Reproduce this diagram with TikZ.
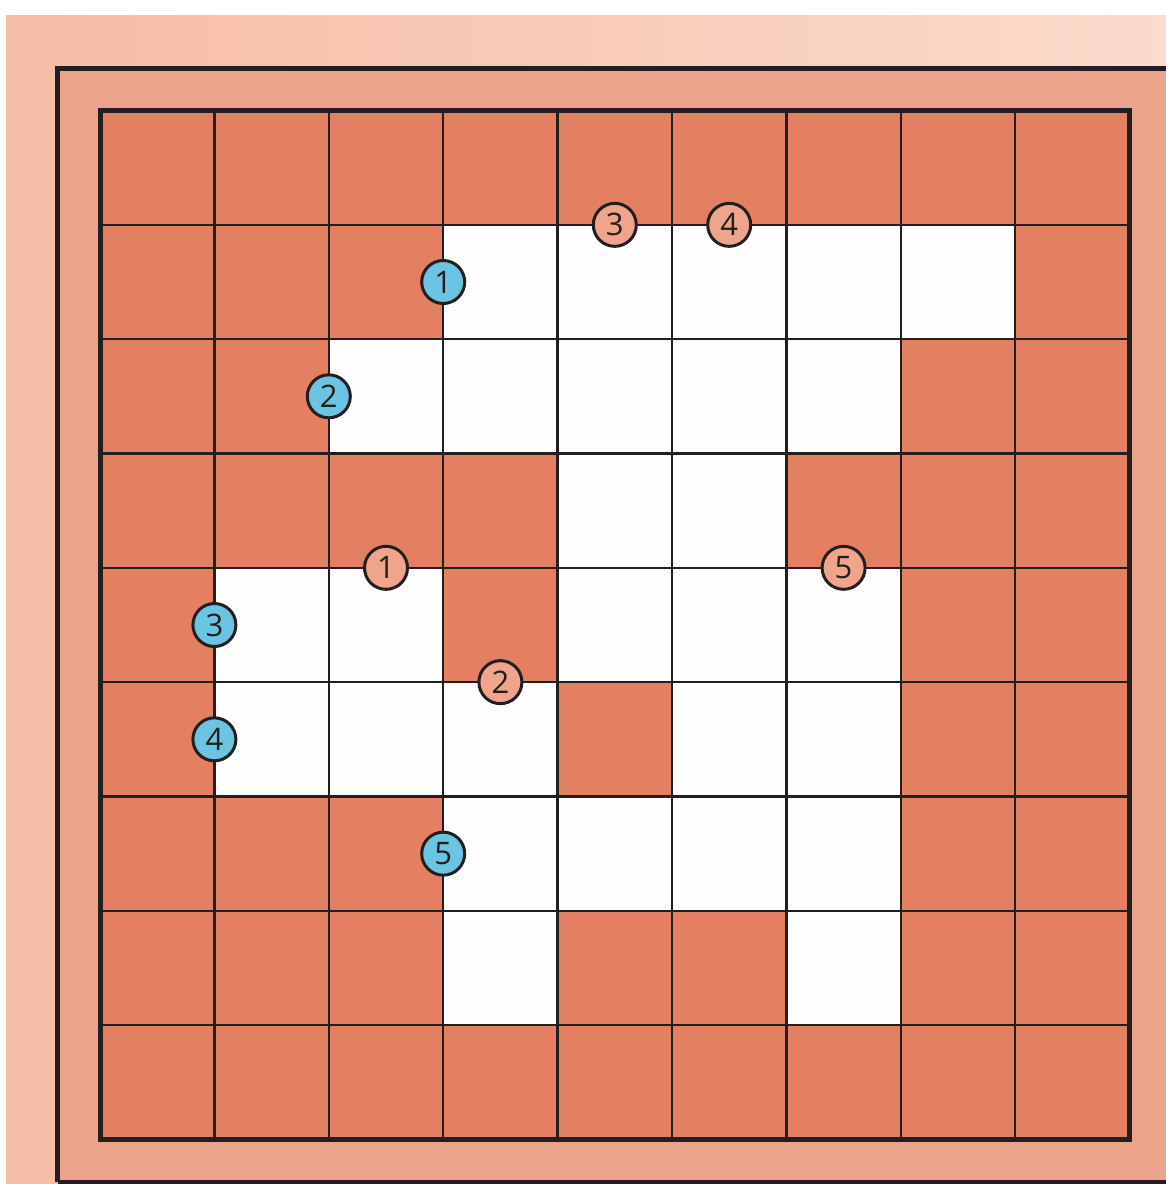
\documentclass[tikz,border=0pt]{standalone}
\usepackage{fontspec}
\setmainfont{Open Sans}
\definecolor{bgL}{HTML}{F7BCA5}
\definecolor{bgR}{HTML}{FADBCC}
\definecolor{frameC}{HTML}{EBA38C}
\definecolor{cellC}{HTML}{E48062}
\definecolor{whiteC}{HTML}{FDFDFD}
\definecolor{lineC}{HTML}{231F20}
\definecolor{blueC}{HTML}{6CC4E3}
\definecolor{pinkC}{HTML}{EFA48B}
\tikzset{
  gridline/.style={draw=lineC, line width=2.3pt},
  borderline/.style={draw=lineC, line width=5pt},
  mark base/.style={circle, draw=lineC, line width=3pt, minimum size=43pt, inner sep=0pt,
    text=lineC, font=\fontsize{31}{31}\selectfont},
  bluemark/.style={mark base, fill=blueC},
  pinkmark/.style={mark base, fill=pinkC},
}
\begin{document}
\begin{tikzpicture}[x=1pt,y=-1pt]
\useasboundingbox (0,0) rectangle (1166,1184);
\clip (0,0) rectangle (1166,1184);
\fill[white] (0,0) rectangle (1166,1184);
\shade[left color=bgL, right color=bgR] (6,15) rectangle (1166,1184);
\fill[frameC] (57.5,68.5) rectangle (1172,1182);
\draw[borderline] (57.5,1182) -- (57.5,68.5) -- (1172,68.5);
\draw[borderline] (57.5,1182) -- (1172,1182);
\begin{scope}[shift={(100,110.5)}, x=114.4pt, y=-114.33pt]
  \fill[cellC] (0,0) rectangle (9,9);
  \foreach \r/\c in {1/3,1/4,1/5,1/6,1/7,
                     2/2,2/3,2/4,2/5,2/6,
                     3/4,3/5,
                     4/1,4/2,4/4,4/5,4/6,
                     5/1,5/2,5/3,5/5,5/6,
                     6/3,6/4,6/5,6/6,
                     7/3,7/6}
    \fill[whiteC] (\c,\r) rectangle ++(1,1);
  \foreach \i in {1,...,8} {
    \draw[gridline] (\i,0) -- (\i,9);
    \draw[gridline] (0,\i) -- (9,\i);
  }
  \draw[borderline] (0,0) rectangle (9,9);
  % blue markers
  \node[bluemark] (b1) at (3,1.5) {1};
  \node[bluemark] (b2) at (2,2.5) {2};
  \node[bluemark] (b3) at (1,4.5) {3};
  \node[bluemark] (b4) at (1,5.5) {4};
  \node[bluemark] (b5) at (3,6.5) {5};
  % salmon markers
  \node[pinkmark] (p1) at (2.5,4) {1};
  \node[pinkmark] (p2) at (3.5,5) {2};
  \node[pinkmark] (p3) at (4.5,1) {3};
  \node[pinkmark] (p4) at (5.5,1) {4};
  \node[pinkmark] (p5) at (6.5,4) {5};
\end{scope}
\end{tikzpicture}
\end{document}
